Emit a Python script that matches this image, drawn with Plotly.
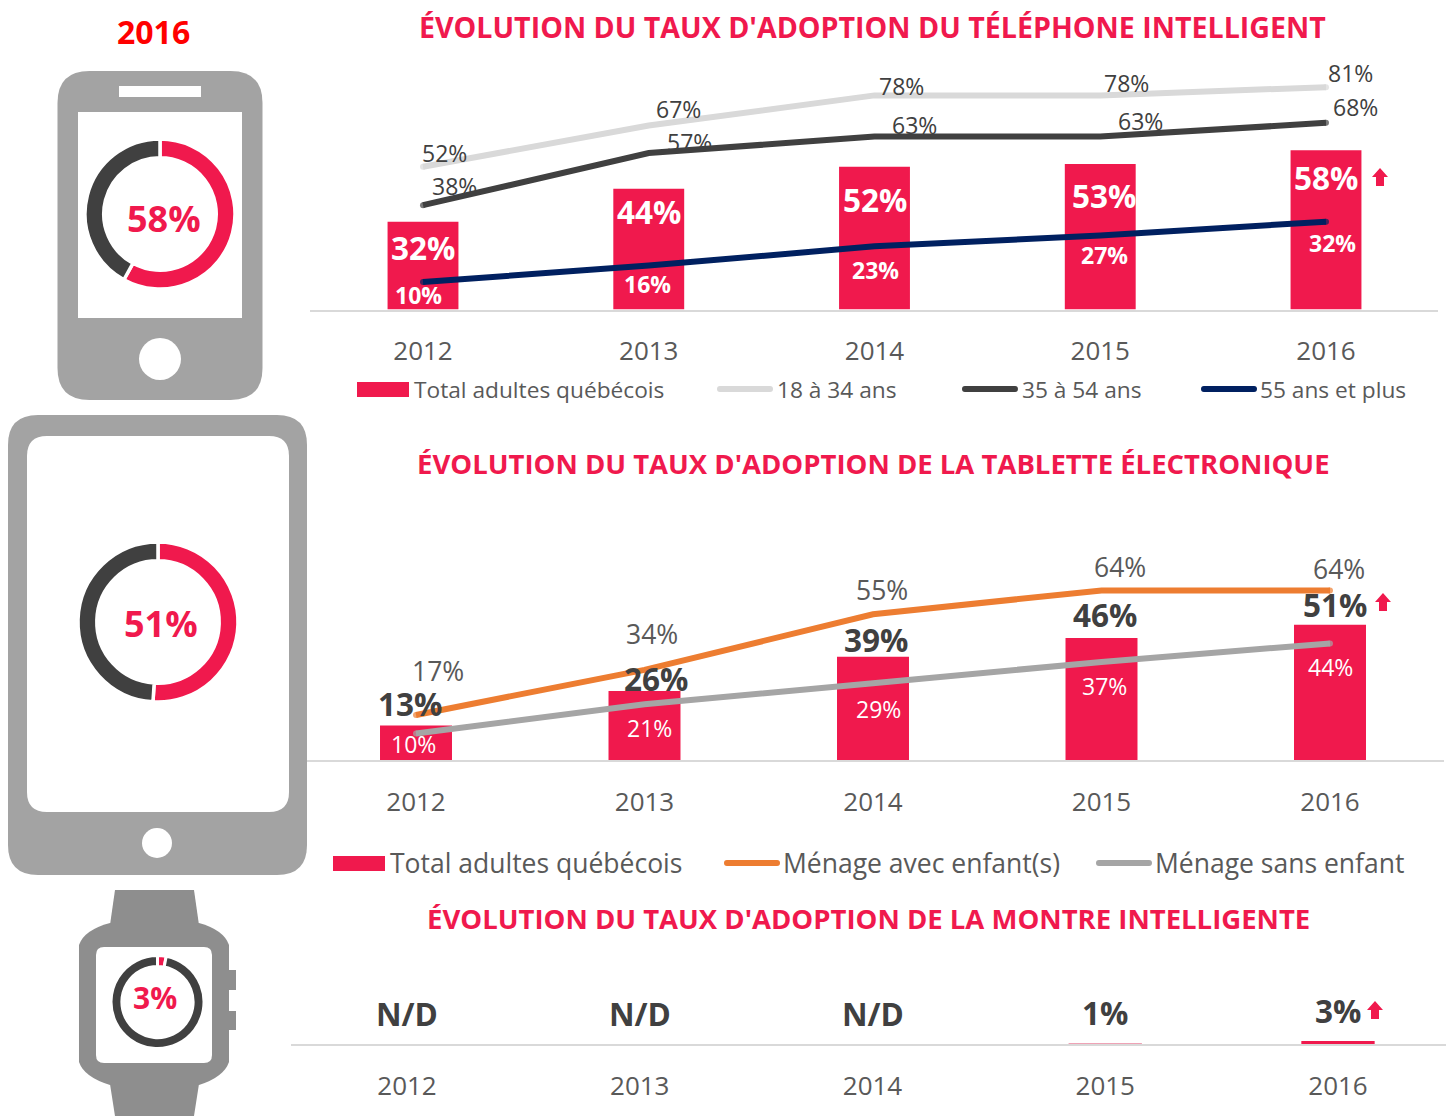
import plotly.graph_objects as go

W, H = 1446, 1116
FONT = "Open Sans"
RED, DARK, GREY_TXT = "#F0194D", "#404040", "#595959"

years = ["2012", "2013", "2014", "2015", "2016"]

# Chart 1: smartphone
phone_total = [32, 44, 52, 53, 58]
phone_18_34 = [52, 67, 78, 78, 81]
phone_35_54 = [38, 57, 63, 63, 68]
phone_55 = [10, 16, 23, 27, 32]
# Chart 2: tablet
tablet_total = [13, 26, 39, 46, 51]
tablet_kids = [17, 34, 55, 64, 64]
tablet_nokids = [10, 21, 29, 37, 44]
# Chart 3: watch
watch_total = [None, None, None, 1, 3]
watch_labels = ["N/D", "N/D", "N/D", "1%", "3%"]
watch_colors = [RED, RED, RED, "#EFA3B6", RED]
# Donuts
donut_phone = [58, 42]
donut_tablet = [51, 49]
donut_watch = [3, 97]

fig = go.Figure()
shapes, anns = [], []


def X(v):
    return v / W


def Y(v):
    return 1 - v / H


def P(x, y):
    return f"{X(x):.5f},{Y(y):.5f}"


def rrect(x0, y0, x1, y1, r):
    return (f"M{P(x0+r,y0)} L{P(x1-r,y0)} Q{P(x1,y0)} {P(x1,y0+r)} "
            f"L{P(x1,y1-r)} Q{P(x1,y1)} {P(x1-r,y1)} "
            f"L{P(x0+r,y1)} Q{P(x0,y1)} {P(x0,y1-r)} "
            f"L{P(x0,y0+r)} Q{P(x0,y0)} {P(x0+r,y0)} Z")


def add_path(d, color):
    shapes.append(dict(type="path", path=d, xref="paper", yref="paper", fillcolor=color,
                       line=dict(width=0), layer="below"))


def add_circle(cx, cy, r, color):
    shapes.append(dict(type="circle", xref="paper", yref="paper", x0=X(cx-r), x1=X(cx+r), y0=Y(cy+r), y1=Y(cy-r),
                       fillcolor=color, line=dict(width=0), layer="below"))


def text_px(x, y, s, size, color, bold=False, anchor="center"):
    anns.append(dict(xref="paper", yref="paper", x=X(x), y=Y(y), text=s, showarrow=False, xanchor=anchor, yanchor="middle",
                     font=dict(family=FONT, size=size, color=color, weight=700 if bold else 400)))


def label(ax, cat, val, s, dx, dy, size, color, bold=False):
    suffix = "" if ax == 1 else str(ax)
    # numeric-looking category names must be given to annotations as category index
    anns.append(dict(xref=f"x{suffix}", yref=f"y{suffix}", x=years.index(cat), y=val, text=s, showarrow=False,
                     xshift=dx, yshift=dy, xanchor="center", yanchor="middle",
                     font=dict(family=FONT, size=size, color=color, weight=700 if bold else 400)))


def arrow(cx, cy, color=RED):
    d = (f"M{P(cx,cy-9)} L{P(cx+8,cy)} L{P(cx+4,cy)} L{P(cx+4,cy+9)} L{P(cx-4,cy+9)} L{P(cx-4,cy)} L{P(cx-8,cy)} Z")
    shapes.append(dict(type="path", path=d, xref="paper", yref="paper", fillcolor=color, line=dict(width=0)))


def legend_rect(x0, x1, y, txt, tx, size):
    add_path(rrect(x0, y-7.5, x1, y+7.5, 0.01), RED)
    text_px(tx, y - 0.5, txt, size, GREY_TXT, anchor="left")


def legend_line(x0, x1, y, color, txt, tx, size):
    add_path(rrect(x0, y-3, x1, y+3, 2.9), color)
    text_px(tx, y, txt, size, GREY_TXT, anchor="left")


def add_axes(n, x0, x1, c0, step, ytop, ybase, ymax, ticklen, size):
    suffix = "" if n == 1 else str(n)
    ax = dict(type="category", domain=[X(x0), X(x1)], range=[(x0-c0)/step, (x1-c0)/step], anchor=f"y{suffix}",
              categoryorder="array", categoryarray=years, showgrid=False, zeroline=False, showline=True,
              linecolor="#D9D9D9", linewidth=2, ticks="outside", ticklen=ticklen, tickcolor="rgba(0,0,0,0)",
              tickfont=dict(family=FONT, size=size, color=GREY_TXT), fixedrange=True)
    ay = dict(domain=[Y(ybase), Y(ytop)], range=[0, ymax], anchor=f"x{suffix}", visible=False, fixedrange=True)
    return {f"xaxis{suffix}": ax, f"yaxis{suffix}": ay}


def bars(n, vals, width, name, color=RED):
    suffix = "" if n == 1 else str(n)
    fig.add_trace(go.Bar(x=years, y=vals, width=width, name=name, marker=dict(color=color, line=dict(width=0)),
                         xaxis=f"x{suffix}", yaxis=f"y{suffix}", showlegend=False, hoverinfo="x+y"))


def line(n, vals, color, name, lw=6):
    suffix = "" if n == 1 else str(n)
    fig.add_trace(go.Scatter(x=years, y=vals, name=name, mode="lines+markers", line=dict(color=color, width=lw),
                             marker=dict(size=[lw, 0, 0, 0, lw], color=color, line=dict(width=0)),
                             xaxis=f"x{suffix}", yaxis=f"y{suffix}", showlegend=False, hoverinfo="x+y"))


def donut(vals, cx, cy, R, hole, lw, colors):
    fig.add_trace(go.Pie(values=vals, hole=hole, sort=False, direction="clockwise", rotation=0,
                         domain=dict(x=[X(cx-R), X(cx+R)], y=[Y(cy+R), Y(cy-R)]),
                         marker=dict(colors=colors, line=dict(color="white", width=lw)),
                         textinfo="none", showlegend=False, hoverinfo="value"))


layout_axes = {}
layout_axes.update(add_axes(1, 310, 1438, 423, 225.75, 35, 309.5, 100, 17, 26))
layout_axes.update(add_axes(2, 307, 1444, 416, 228.5, 495, 760, 100, 18, 26))
layout_axes.update(add_axes(3, 291, 1446, 407, 232.75, 1008, 1044, 36, 18, 26))

# ---------- chart 1
bars(1, phone_total, 0.314, "Total adultes québécois")
line(1, phone_18_34, "#D9D9D9", "18 à 34 ans")
line(1, phone_35_54, DARK, "35 à 54 ans")
line(1, phone_55, "#002060", "55 ans et plus")
for y, v, o in zip(years, phone_total, [(0, -26), (0, -23), (0, -33), (4, -31), (0, -27)]):
    label(1, y, v, f"{v}%", o[0], o[1], 31.5, "white", True)
for y, v, o in zip(years, phone_18_34, [(21, 14), (30, 17), (27, 9), (26, 12), (24, 14)]):
    label(1, y, v, f"{v}%", o[0], o[1], 23, DARK)
for y, v, o in zip(years, phone_35_54, [(31, 19), (41, 11), (40, 12), (40, 16), (29, 16)]):
    label(1, y, v, f"{v}%", o[0], o[1], 23, DARK)
for y, v, o in zip(years, phone_55, [(-5, -13), (-1, -18), (1, -24), (4, -20), (6, -21)]):
    label(1, y, v, f"{v}%", o[0], o[1], 23, "white", True)

# ---------- chart 2
bars(2, tablet_total, 0.315, "Total adultes québécois")
line(2, tablet_kids, "#ED7D31", "Ménage avec enfant(s)")
line(2, tablet_nokids, "#A5A5A5", "Ménage sans enfant")
for y, v, o in zip(years, tablet_total, [(-6, 22), (11, 13), (3, 17), (3, 24), (5, 20)]):
    label(2, y, v, f"{v}%", o[0], o[1], 31.5, DARK, True)
for y, v, o in zip(years, tablet_kids, [(22, 44), (7, 36), (9, 24), (18, 23), (9, 21)]):
    label(2, y, v, f"{v}%", o[0], o[1], 26.5, GREY_TXT)
for y, v, o in zip(years, tablet_nokids, [(-3, -10), (5, -24), (5, -26), (3, -24), (0, -24)]):
    label(2, y, v, f"{v}%", o[0], o[1], 23, "white")

# ---------- chart 3
bars(3, watch_total, 0.315, "Total adultes québécois", watch_colors)
for y, s, dy in zip(years, watch_labels, [31, 31, 31, 32, 34]):
    label(3, y, 0, s, 0, dy, 31.5, DARK, True)

# ---------- titles and legends
text_px(153, 31, "2016", 32, "#FF0000", True)
text_px(872, 27, "ÉVOLUTION DU TAUX D'ADOPTION DU TÉLÉPHONE INTELLIGENT", 28.6, RED, True)
text_px(873, 464, "ÉVOLUTION DU TAUX D'ADOPTION DE LA TABLETTE ÉLECTRONIQUE", 27.5, RED, True)
text_px(868, 918.5, "ÉVOLUTION DU TAUX D'ADOPTION DE LA MONTRE INTELLIGENTE", 27.5, RED, True)

legend_rect(357, 409, 389.5, "Total adultes québécois", 412, 22.7)
legend_line(717, 773, 389, "#D9D9D9", "18 à 34 ans", 775, 22.7)
legend_line(962, 1018, 389, DARK, "35 à 54 ans", 1020, 22.7)
legend_line(1201, 1257, 389, "#002060", "55 ans et plus", 1258, 22.7)
legend_rect(333, 385, 863.5, "Total adultes québécois", 388, 26.5)
legend_line(724, 780, 863, "#ED7D31", "Ménage avec enfant(s)", 781, 26.5)
legend_line(1096, 1152, 863, "#A5A5A5", "Ménage sans enfant", 1153, 26.5)

arrow(1380, 177)
arrow(1383, 602)
arrow(1375, 1010)

# ---------- device icons
GP = "#A3A3A3"
add_path(rrect(57.5, 71, 262.5, 400, 32), GP)
add_path(rrect(119, 86, 201, 97, 0.01), "white")
add_path(rrect(78, 112, 242, 318, 0.01), "white")
add_circle(160, 359, 21, "white")

add_path(rrect(8, 415, 307, 875, 30), GP)
add_path(rrect(27, 436, 289, 812, 20), "white")
add_circle(157, 843, 15, "white")

GW = "#8E8E8E"
add_path(f"M{P(115,890)} L{P(194,890)} L{P(199,925)} L{P(110,925)} Z", GW)
add_path(f"M{P(110,1084)} L{P(199,1084)} L{P(194,1116)} L{P(115,1116)} Z", GW)
add_path(f"M{P(110,923)} Q{P(84,930)} {P(79,945)} L{P(79,1062)} Q{P(84,1077)} {P(110,1085)} "
         f"L{P(199,1085)} Q{P(224,1077)} {P(229,1062)} L{P(229,945)} Q{P(224,930)} {P(199,923)} Z", GW)
add_path(rrect(225, 970, 236, 990, 0.01), GW)
add_path(rrect(225, 1011, 236, 1030, 0.01), GW)
add_path(rrect(96, 947, 212, 1063, 8), "white")

# ---------- donuts
donut(donut_phone, 160, 214, 75, 0.75, 3.5, [RED, DARK])
donut(donut_tablet, 158, 622, 80, 0.765, 3.5, [RED, DARK])
donut(donut_watch, 157.5, 1002, 46.5, 0.766, 3, [RED, DARK])
text_px(164, 218, "58%", 36, RED, True)
text_px(161, 624, "51%", 36, RED, True)
text_px(155, 997, "3%", 30, RED, True)

fig.update_layout(width=W, height=H, margin=dict(l=0, r=0, t=0, b=0), paper_bgcolor="white", plot_bgcolor="white",
                  barmode="overlay", shapes=shapes, annotations=anns, showlegend=False, hovermode="closest",
                  **layout_axes)
fig.write_html("out.html", post_script="document.body.style.margin='0';", config=dict(displayModeBar=False))
